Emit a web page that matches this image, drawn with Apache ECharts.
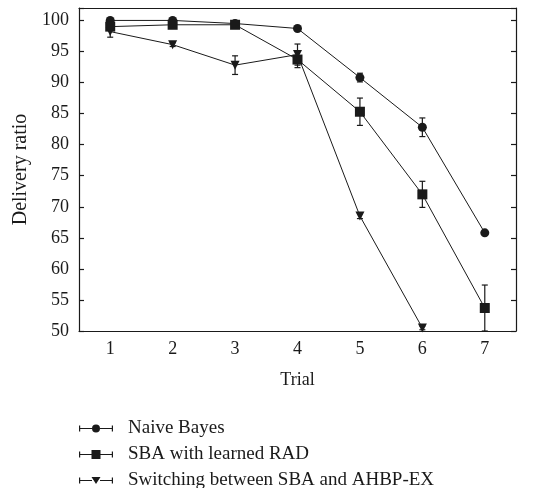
<!DOCTYPE html>
<html><head><meta charset="utf-8">
<script src="https://cdn.jsdelivr.net/npm/echarts@6/dist/echarts.min.js"></script>
<style>html,body{margin:0;padding:0;background:#fff}#c{width:541px;height:488px}</style>
</head><body><div id="c"></div>
<script>
const trials = ['1','2','3','4','5','6','7'];
const naiveBayes = [100, 100, 99.5, 98.7, 90.8, 82.8, 65.8];
const naiveBayesErr = [0.3, 0.3, 0.2, 0.3, 0.7, 1.5, 0.3];
const sbaRad = [99.0, 99.3, 99.3, 93.7, 85.3, 72.0, 53.7];
const sbaRadErr = [0.4, 0.3, 0.3, 1.3, 2.2, 2.1, 3.7];
const switching = [98.2, 96.1, 92.8, 94.5, 68.5, 50.5];
const switchingErr = [0.9, 0.3, 1.5, 1.7, 0.4, 0.3];
const yTicks = [50, 55, 60, 65, 70, 75, 80, 85, 90, 95, 100];
const seriesNames = ['Naive Bayes', 'SBA with learned RAD', 'Switching between SBA and AHBP-EX'];

const ink = '#1a1a1a';
const font = 'Liberation Serif';

function errSeries(vals, errs) {
  return {
    type: 'custom', silent: true, clip: true, z: 1,
    data: vals.map((v, i) => [i, v - errs[i], v + errs[i]]),
    renderItem: function (params, api) {
      const lo = api.coord([api.value(0), api.value(1)]);
      const hi = api.coord([api.value(0), api.value(2)]);
      const w = 3;
      const s = {stroke: ink, lineWidth: 1.2};
      return {type: 'group', children: [
        {type: 'line', shape: {x1: lo[0], y1: lo[1], x2: hi[0], y2: hi[1]}, style: s},
        {type: 'line', shape: {x1: lo[0]-w, y1: lo[1], x2: lo[0]+w, y2: lo[1]}, style: s},
        {type: 'line', shape: {x1: hi[0]-w, y1: hi[1], x2: hi[0]+w, y2: hi[1]}, style: s}
      ]};
    }
  };
}
const base = 'M0,4 L1.2,4 L1.2,6.5 L13,6.5 L13,7.5 L1.2,7.5 L1.2,10 L0,10 Z ' +
             'M21,6.5 L32.8,6.5 L32.8,4 L34,4 L34,10 L32.8,10 L32.8,7.5 L21,7.5 Z ';
const icons = [
  'path://' + base + 'M13,7 A4,4 0 1 0 21,7 A4,4 0 1 0 13,7 Z',
  'path://' + base + 'M12.5,2.5 L21.5,2.5 L21.5,11.5 L12.5,11.5 Z',
  'path://' + base + 'M12.5,3.5 L21.5,3.5 L17,10.5 Z'
];
const legendTops = [419, 445, 471];

const lineBase = {type: 'line', z: 3, lineStyle: {color: ink, width: 1}, itemStyle: {color: ink}, clip: true, animation: false};

const chart = echarts.init(document.getElementById('c'));
chart.setOption({
  animation: false,
  grid: {left: 79, right: 25, top: 8, bottom: 157},
  xAxis: [{
    type: 'category', data: trials, boundaryGap: true,
    name: 'Trial', nameLocation: 'middle', nameGap: 40,
    nameTextStyle: {fontFamily: font, fontSize: 18, color: ink},
    axisLine: {lineStyle: {color: ink, width: 1.2}},
    axisTick: {inside: true, alignWithLabel: true, length: 5, lineStyle: {color: ink, width: 1.2}},
    axisLabel: {fontFamily: font, fontSize: 18, color: ink, margin: 9}
  }, {
    type: 'category', data: trials, boundaryGap: true, position: 'top',
    axisLine: {lineStyle: {color: ink, width: 1.2}},
    axisTick: {inside: true, alignWithLabel: true, length: 5, lineStyle: {color: ink, width: 1.2}},
    axisLabel: {show: false}
  }],
  yAxis: [{
    type: 'value', min: 50, max: 102, interval: 5,
    name: 'Delivery ratio', nameLocation: 'middle', nameGap: 43,
    nameTextStyle: {fontFamily: font, fontSize: 20, color: ink},
    axisLine: {show: true, lineStyle: {color: ink, width: 1.2}},
    axisTick: {show: true, inside: true, length: 5, lineStyle: {color: ink, width: 1.2}},
    splitLine: {show: false},
    axisLabel: {fontFamily: font, fontSize: 18, color: ink, margin: 10,
      formatter: v => yTicks.includes(v) ? String(v) : ''}
  }, {
    type: 'value', min: 50, max: 102, interval: 5, position: 'right',
    axisLine: {show: true, lineStyle: {color: ink, width: 1.2}},
    axisTick: {show: true, inside: true, length: 5, lineStyle: {color: ink, width: 1.2}},
    splitLine: {show: false},
    axisLabel: {show: false}
  }],
  legend: seriesNames.map((n, i) => ({
    orient: 'vertical', left: 79, top: legendTops[i], padding: 0, itemWidth: 34, itemHeight: 14,
    textStyle: {fontFamily: font, fontSize: 19, lineHeight: 18, color: ink, padding: [0, 0, 0, 10]},
    data: [{name: n, icon: icons[i]}]
  })),
  series: [
    Object.assign({}, lineBase, {name: seriesNames[0], data: naiveBayes, symbol: 'circle', symbolSize: 9}),
    Object.assign({}, lineBase, {name: seriesNames[1], data: sbaRad, symbol: 'rect', symbolSize: 10}),
    Object.assign({}, lineBase, {name: seriesNames[2], data: switching, symbol: 'triangle', symbolRotate: 180, symbolSize: 9}),
    errSeries(naiveBayes, naiveBayesErr),
    errSeries(sbaRad, sbaRadErr),
    errSeries(switching, switchingErr)
  ]
});
</script></body></html>
